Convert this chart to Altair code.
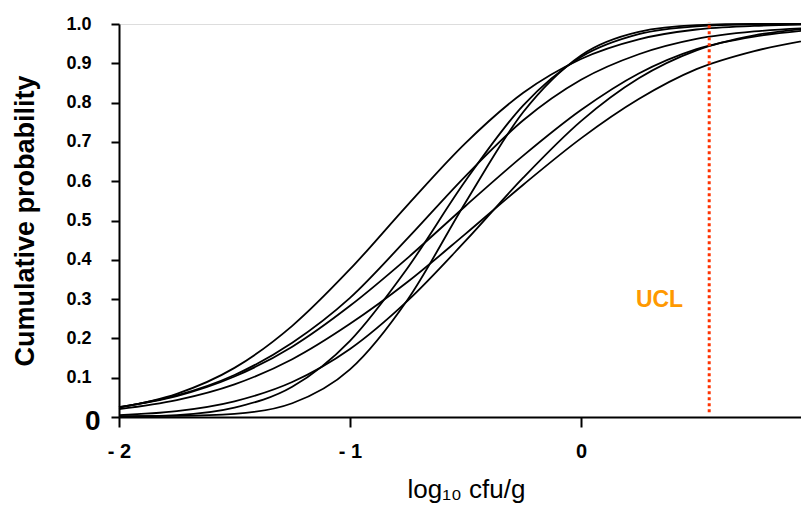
import altair as alt
import pandas as pd

# x grid (log10 cfu/g) at which the cumulative curves were read
x_grid = [-2, -1.75, -1.5, -1.25, -1, -0.75, -0.5, -0.25, 0, 0.25, 0.5, 0.75, 1]

# cumulative probability of each curve
curve_a = [0.024, 0.059, 0.125, 0.232, 0.376, 0.540, 0.697, 0.825, 0.911, 0.961, 0.986, 0.995, 0.999]
curve_b = [0.001, 0.005, 0.024, 0.077, 0.194, 0.380, 0.601, 0.793, 0.916, 0.974, 0.994, 0.999, 1.000]
curve_c = [0.002, 0.003, 0.008, 0.035, 0.121, 0.299, 0.546, 0.776, 0.920, 0.980, 0.997, 1.000, 1.000]
curve_d = [0.025, 0.055, 0.107, 0.189, 0.303, 0.455, 0.613, 0.755, 0.858, 0.923, 0.962, 0.981, 0.990]
curve_e = [0.025, 0.053, 0.103, 0.179, 0.283, 0.405, 0.537, 0.665, 0.781, 0.874, 0.936, 0.968, 0.985]
curve_f = [0.020, 0.043, 0.083, 0.147, 0.237, 0.344, 0.466, 0.591, 0.709, 0.809, 0.885, 0.931, 0.961]
curve_g = [0.005, 0.015, 0.040, 0.089, 0.173, 0.296, 0.448, 0.609, 0.753, 0.862, 0.933, 0.971, 0.990]

curves = {"a": curve_a, "b": curve_b, "c": curve_c, "d": curve_d,
          "e": curve_e, "f": curve_f, "g": curve_g}

# UCL marker
ucl_x = [0.555]
ucl_y_low = [0.012]
ucl_y_high = [1.005]
ucl_text = ["UCL"]
ucl_text_x = [0.34]
ucl_text_y = [0.297]

x_ticks = [-2, -1, 0, 1]
y_ticks = [0, 0.1, 0.2, 0.3, 0.4, 0.5, 0.6, 0.7, 0.8, 0.9, 1.0]

rows = [{"x": x, "p": v, "curve": name}
        for name, vals in curves.items() for x, v in zip(x_grid, vals)]
df = pd.DataFrame(rows)

FONT = "Liberation Sans"

xscale = alt.Scale(domain=[-2, 1], range=[0, 693], nice=False, zero=False)
yscale = alt.Scale(domain=[0, 1], nice=False, zero=False)

x_axis = alt.Axis(
    values=x_ticks,
    labelExpr="datum.value < 0 ? '- ' + abs(datum.value) : format(datum.value, 'd')",
    title="log\u2081\u2080 cfu/g",
    titleFontSize=26, titleFontWeight="normal", titleFont=FONT, titleColor="black",
    titleX=347, titleY=80, titleBaseline="alphabetic", titleAlign="center",
    labelFontSize=20, labelFontWeight="bold", labelFont=FONT, labelColor="black",
    labelPadding=14, labelOverlap=False,
    tickSize=10, tickWidth=2, tickColor="black",
    domainWidth=2, domainColor="black", grid=False, labelFlush=False,
)

y_axis = alt.Axis(
    values=y_ticks,
    labelExpr="datum.value === 0 ? '0' : format(datum.value, '.1f')",
    title="Cumulative probability",
    titleFontSize=27, titleFontWeight="bold", titleFont=FONT, titleColor="black",
    titleX=-86, titleY=196.5, titleAngle=270, titleBaseline="alphabetic", titleAlign="center",
    labelFontSize={"condition": {"test": "datum.value === 0", "value": 28}, "value": 18},
    labelPadding={"condition": {"test": "datum.value === 0", "value": 11}, "value": 20},
    labelOffset={"condition": {"test": "datum.value === 0", "value": 4}, "value": 0},
    labelFontWeight="bold", labelFont=FONT, labelColor="black",
    labelOverlap=False,
    tickSize=8, tickWidth=2, tickColor="black",
    domainWidth=2, domainColor="black", grid=False, labelFlush=False,
)

lines = alt.Chart(df).mark_line(
    color="black", strokeWidth=1.8, interpolate="monotone"
).encode(
    x=alt.X("x:Q", scale=xscale, axis=x_axis),
    y=alt.Y("p:Q", scale=yscale, axis=y_axis),
    detail="curve:N",
)

ucl_df = pd.DataFrame({"x": ucl_x, "p": ucl_y_low, "p2": ucl_y_high})
rule = alt.Chart(ucl_df).mark_rule(
    color="#FF3300", strokeDash=[3, 3], strokeWidth=3
).encode(
    x=alt.X("x:Q", scale=xscale, axis=x_axis),
    y=alt.Y("p:Q", scale=yscale, axis=y_axis),
    y2="p2:Q",
)

txt_df = pd.DataFrame({"x": ucl_text_x, "p": ucl_text_y, "t": ucl_text})
label = alt.Chart(txt_df).mark_text(
    color="#FF9900", fontSize=23, fontWeight="bold", font=FONT, baseline="middle", align="center"
).encode(
    x=alt.X("x:Q", scale=xscale, axis=x_axis),
    y=alt.Y("p:Q", scale=yscale, axis=y_axis),
    text="t:N",
)

chart = alt.layer(lines, rule, label).properties(
    width=682, height=393,
    padding={"left": 111, "top": 16, "right": 0, "bottom": 87},
    autosize=alt.AutoSizeParams(type="none"),
).configure_view(strokeWidth=0).configure(font=FONT)

chart.save("out.html", embed_options={"renderer": "svg", "actions": False})
